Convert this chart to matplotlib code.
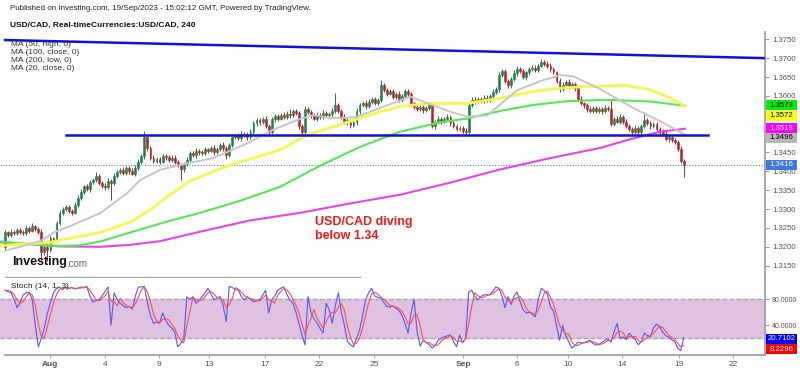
import numpy as np
import pandas as pd
import matplotlib
matplotlib.use("Agg")
import matplotlib.pyplot as plt
from matplotlib.patches import Rectangle

plt.rcParams['font.family'] = ['Liberation Sans', 'DejaVu Sans']

# ---- data (USD/CAD 4h candles) ----
first_open = 1.3200
closes = [
    1.3238, 1.3232, 1.3240, 1.3236, 1.3245, 1.3240, 1.3236, 1.3250, 1.3242, 1.3255, 1.3248, 1.3240, 1.3185, 1.3200, 1.3192, 1.3222, 1.3218, 1.3262, 1.3290, 1.3300, 1.3305, 1.3296, 1.3290, 1.3312, 1.3330,
    1.3345, 1.3360, 1.3352, 1.3372, 1.3378, 1.3388, 1.3370, 1.3362, 1.3358, 1.3375, 1.3370, 1.3388, 1.3398, 1.3404, 1.3396, 1.3408, 1.3400, 1.3394, 1.3410, 1.3425, 1.3440, 1.3490, 1.3462, 1.3435, 1.3428,
    1.3432, 1.3425, 1.3440, 1.3438, 1.3430, 1.3436, 1.3424, 1.3418, 1.3405, 1.3420, 1.3430, 1.3448, 1.3442, 1.3455, 1.3450, 1.3448, 1.3458, 1.3455, 1.3462, 1.3450, 1.3460, 1.3470, 1.3462, 1.3444, 1.3470,
    1.3492, 1.3495, 1.3488, 1.3500, 1.3496, 1.3490, 1.3505, 1.3528, 1.3535, 1.3530, 1.3540, 1.3520, 1.3505, 1.3538, 1.3546, 1.3540, 1.3550, 1.3545, 1.3552, 1.3548, 1.3560, 1.3555, 1.3520, 1.3503, 1.3565,
    1.3558, 1.3548, 1.3540, 1.3550, 1.3545, 1.3555, 1.3548, 1.3552, 1.3560, 1.3575, 1.3560, 1.3545, 1.3530, 1.3535, 1.3522, 1.3530, 1.3560, 1.3575, 1.3580, 1.3572, 1.3585, 1.3592, 1.3582, 1.3590, 1.3628,
    1.3615, 1.3605, 1.3612, 1.3598, 1.3605, 1.3590, 1.3600, 1.3612, 1.3605, 1.3580, 1.3570, 1.3565, 1.3570, 1.3562, 1.3568, 1.3575, 1.3520, 1.3530, 1.3538, 1.3532, 1.3540, 1.3545, 1.3528, 1.3520, 1.3512,
    1.3515, 1.3508, 1.3505, 1.3575, 1.3590, 1.3585, 1.3592, 1.3588, 1.3595, 1.3590, 1.3600, 1.3610, 1.3618, 1.3655, 1.3665, 1.3640, 1.3628, 1.3645, 1.3660, 1.3672, 1.3665, 1.3650, 1.3662, 1.3670, 1.3675,
    1.3668, 1.3680, 1.3690, 1.3685, 1.3680, 1.3670, 1.3662, 1.3640, 1.3618, 1.3630, 1.3638, 1.3625, 1.3632, 1.3620, 1.3592, 1.3580, 1.3575, 1.3565, 1.3560, 1.3568, 1.3560, 1.3565, 1.3560, 1.3568, 1.3565,
    1.3525, 1.3540, 1.3532, 1.3545, 1.3530, 1.3520, 1.3512, 1.3505, 1.3515, 1.3505, 1.3520, 1.3535, 1.3528, 1.3520, 1.3525, 1.3512, 1.3505, 1.3500, 1.3485, 1.3490, 1.3482, 1.3478, 1.3460, 1.3428, 1.3416,
]
# wick lengths in pips above / below the body
wick_up = [
    6, 5, 8, 4, 6, 5, 4, 7, 5, 8, 4, 5, 6, 5, 9, 6, 5, 7, 8, 6, 5, 6, 5, 7, 6,
    8, 5, 7, 6, 5, 9, 6, 5, 6, 7, 5, 8, 6, 5, 7, 6, 5, 8, 6, 7, 6, 18, 6, 5, 7,
    6, 5, 7, 6, 5, 8, 6, 5, 4, 6, 7, 5, 6, 8, 5, 6, 7, 5, 6, 9, 5, 6, 7, 5, 6,
    6, 5, 7, 6, 5, 8, 6, 5, 7, 6, 5, 7, 6, 5, 6, 7, 5, 6, 8, 12, 6, 5, 6, 5, 7,
    6, 5, 7, 6, 5, 8, 6, 5, 7, 32, 6, 5, 7, 6, 5, 6, 7, 5, 6, 8, 6, 5, 6, 5, 14,
    6, 5, 7, 6, 5, 8, 6, 5, 7, 6, 5, 7, 6, 5, 6, 7, 5, 6, 8, 6, 5, 6, 5, 7, 6,
    6, 5, 7, 5, 6, 8, 6, 5, 7, 6, 5, 7, 6, 8, 6, 7, 5, 6, 8, 6, 5, 6, 5, 7, 6,
    6, 5, 7, 6, 8, 6, 6, 5, 7, 6, 5, 7, 6, 5, 6, 7, 5, 6, 8, 6, 5, 6, 5, 7, 6,
    24, 5, 7, 6, 5, 8, 6, 5, 7, 6, 5, 19, 6, 5, 6, 7, 5, 6, 8, 6, 5, 6, 5, 7, 4,
]
wick_dn = [
    12, 5, 6, 4, 5, 6, 4, 5, 6, 4, 5, 6, 20, 8, 30, 5, 6, 4, 5, 7, 5, 6, 5, 4, 6,
    5, 6, 4, 7, 5, 6, 5, 6, 7, 6, 45, 5, 6, 4, 5, 7, 6, 5, 6, 7, 5, 6, 8, 6, 5,
    5, 6, 4, 7, 5, 6, 5, 6, 27, 6, 5, 6, 5, 7, 6, 5, 6, 7, 5, 6, 5, 6, 7, 12, 6,
    5, 6, 4, 7, 5, 6, 5, 6, 7, 6, 5, 6, 9, 5, 6, 7, 5, 6, 5, 6, 5, 6, 7, 6, 5,
    5, 6, 4, 7, 5, 6, 5, 6, 7, 6, 5, 6, 5, 7, 6, 5, 6, 7, 5, 6, 5, 6, 7, 6, 5,
    5, 6, 4, 7, 5, 6, 5, 6, 7, 6, 5, 6, 5, 7, 6, 5, 6, 7, 5, 6, 5, 6, 7, 6, 5,
    5, 6, 9, 7, 5, 6, 5, 6, 7, 6, 5, 6, 5, 7, 6, 5, 6, 7, 5, 6, 5, 6, 7, 6, 5,
    5, 6, 4, 7, 5, 6, 5, 6, 7, 6, 5, 6, 5, 7, 6, 5, 6, 7, 5, 6, 5, 6, 7, 6, 5,
    5, 6, 4, 7, 5, 6, 5, 6, 7, 6, 5, 6, 5, 7, 6, 5, 6, 7, 5, 6, 5, 6, 7, 6, 30,
]

# moving averages (candle index, price)
ma50_x = [-1.5, 14.9, 31.4, 41.3, 47.9, 54.5, 61.1, 74.3, 90.8, 99.7, 112.9, 123.8, 130.4, 140.3, 152.5, 163.4, 174.3, 185.5, 196.4, 204.6, 212.9, 219.5, 224.4]
ma50_y = [1.3203, 1.3212, 1.3238, 1.3265, 1.3298, 1.3338, 1.3375, 1.3417, 1.3457, 1.3496, 1.3530, 1.3558, 1.3572, 1.3580, 1.3580, 1.3594, 1.3612, 1.3622, 1.3626, 1.3628, 1.3616, 1.3595, 1.3573]
ma100_x = [-1.5, 8.3, 18.2, 24.8, 31.4, 42.2, 53.5, 64.4, 77.6, 90.8, 104.0, 117.2, 130.4, 143.6, 152.5, 163.4, 174.3, 185.5, 196.4, 200.7, 212.9, 224.4]
ma100_y = [1.3214, 1.3207, 1.3202, 1.3204, 1.3214, 1.3240, 1.3267, 1.3290, 1.3322, 1.3359, 1.3415, 1.3465, 1.3505, 1.3530, 1.3540, 1.3560, 1.3576, 1.3586, 1.3589, 1.3589, 1.3585, 1.3574]
ma200_x = [-1.5, 8.3, 18.2, 31.4, 41.3, 51.2, 64.4, 80.9, 97.4, 113.9, 130.4, 146.9, 163.4, 179.9, 196.4, 206.3, 216.2, 224.4]
ma200_y = [1.3212, 1.3207, 1.3201, 1.3200, 1.3205, 1.3215, 1.3240, 1.3270, 1.3290, 1.3315, 1.3338, 1.3370, 1.3405, 1.3435, 1.3462, 1.3485, 1.3505, 1.3513]
ma20_x = [0, 5, 11.6, 16.5, 21.5, 31.4, 40.3, 44.6, 51.2, 60.1, 68.6, 79.9, 88.4, 96.4, 101.7, 107.3, 115.5, 124.8, 133.7, 141.3, 146.9, 152.5, 159.1, 169, 177.6, 183.2, 187.5, 196.4, 207.3, 216.2, 224.4]
ma20_y = [1.3190, 1.3200, 1.3215, 1.3240, 1.3255, 1.3289, 1.3342, 1.3377, 1.3404, 1.3421, 1.3435, 1.3474, 1.3510, 1.3536, 1.3549, 1.3541, 1.3543, 1.3571, 1.3598, 1.3575, 1.3558, 1.3545, 1.3548, 1.3615, 1.3642, 1.3655, 1.3652, 1.3618, 1.3568, 1.3533, 1.3497]

# drawn lines
trend_x = [0, 250.8]
trend_y = [1.3748, 1.3700]
support_x = [20.1, 232.0]
support_y = [1.3497, 1.3497]
last_price = 1.3416

# stochastic %K
stoch_k = [
    94, 92, 90, 80, 67, 75, 87, 90, 91, 79, 40, 7, 20, 36, 59, 75, 90, 97, 99, 95, 99, 97, 98, 96, 97,
    99, 98, 100, 85, 76, 78, 79, 85, 92, 99, 40, 90, 80, 74, 70, 67, 69, 65, 85, 99, 99, 100, 74, 55, 43,
    45, 43, 59, 48, 40, 36, 30, 7, 12, 20, 84, 80, 84, 74, 78, 84, 90, 97, 88, 79, 82, 84, 70, 46, 100,
    98, 95, 94, 84, 79, 84, 80, 76, 78, 79, 86, 94, 59, 79, 85, 94, 97, 99, 88, 79, 74, 60, 43, 25, 10,
    84, 59, 50, 43, 35, 28, 74, 64, 43, 70, 90, 60, 40, 15, 10, 7, 20, 33, 55, 79, 90, 97, 85, 83, 82,
    75, 69, 68, 70, 66, 63, 55, 43, 28, 59, 80, 30, 8, 17, 14, 10, 5, 10, 17, 20, 22, 24, 25, 15, 7,
    25, 13, 20, 91, 94, 85, 79, 84, 87, 87, 87, 92, 99, 97, 85, 67, 84, 72, 85, 91, 76, 64, 59, 60, 57,
    53, 80, 97, 93, 88, 68, 62, 40, 17, 40, 25, 15, 5, 8, 14, 13, 13, 15, 17, 12, 10, 10, 14, 17, 19,
    14, 30, 43, 20, 22, 18, 28, 22, 18, 10, 15, 28, 24, 22, 36, 42, 38, 30, 24, 22, 18, 15, 5, 1, 20.7,
]

tick_pos = [14.85, 32.9, 50.7, 67.3, 85.8, 103.6, 121.8, 151.2, 169, 185.8, 203.6, 222.4, 240.3]
tick_labels = ["Aug", "4", "9", "13", "17", "22", "25", "Sep", "6", "10", "14", "19", "22"]
# 1.3500 and 1.3550 sit under the value tags, so no label is drawn there
price_ticks = [1.3150, 1.3200, 1.3250, 1.3300, 1.3350, 1.3400, 1.3450,
               1.3600, 1.3650, 1.3700, 1.3750]
stoch_ticks = [0, 40, 80]

# right-side value tags: (text, price where drawn, face, text colour)
tags = [("1.3573", 1.35751, "#00ee00", "black"),
        ("1.3572", 1.35475, "#ffff00", "black"),
        ("1.3513", 1.35141, "#ff00ff", "white"),
        ("1.3496", 1.34892, "#b8b8b8", "black"),
        ("1.3416", 1.34168, "#3f78dc", "white")]
stoch_tags = [("20.7102", 19.4, "#0000ff"), ("8.2296", 3.1, "#ff0000")]

# ---- derived ----
c = np.array(closes)
o = np.array([first_open] + closes[:-1])
hi = np.maximum(o, c) + np.array(wick_up) * 1e-4
lo = np.minimum(o, c) - np.array(wick_dn) * 1e-4
idx = np.arange(len(c))
stoch_d = pd.Series(stoch_k).rolling(3, min_periods=1).mean()

W, H = 800, 371
fig = plt.figure(figsize=(W / 100, H / 100), dpi=100)


def fpos(x, y):
    return x / W, 1 - y / H


XL = (-1.65, 250.8)
ax = fig.add_axes([0, 1 - 278 / H, 765 / W, (278 - 32) / H])
ax2 = fig.add_axes([0, 1 - 355 / H, 765 / W, (355 - 278) / H])

# main pane
cols = np.where(c >= o, "#1f7f45", "#b0262b")
ax.vlines(idx, lo, hi, colors=cols, lw=0.7, zorder=2)
ax.bar(idx, np.abs(c - o), bottom=np.minimum(o, c), width=0.62, color=cols,
       edgecolor=cols, linewidth=0.4, zorder=3)

ax.plot(ma200_x, ma200_y, color="#e545e5", lw=1.5, zorder=4)
ax.plot(ma100_x, ma100_y, color="#55e855", lw=1.5, zorder=4)
ax.plot(ma50_x, ma50_y, color="#f6f64e", lw=2.0, zorder=4)
ax.plot(ma20_x, ma20_y, color="#c6c6c6", lw=1.4, zorder=4)

ax.plot(trend_x, trend_y, color="#1010e0", lw=1.8, zorder=5)
ax.plot(support_x, support_y, color="#1010e0", lw=1.8, zorder=5)
ax.axhline(last_price, color="#5b80e6", ls=(0, (1, 1.5)), lw=0.8, zorder=1)
ax.plot([0, 117], [0.004, 0.004], transform=ax.get_xaxis_transform(),
        color="#a8a8a8", lw=1, clip_on=False)

ax.set_xlim(*XL)
ax.set_ylim(1.31173, 1.37693)
ax.set_yticks(price_ticks)
ax.yaxis.set_major_formatter(plt.FormatStrFormatter("%.4f"))
ax.tick_params(axis="y", left=False, labelleft=False, right=True, labelright=True,
               direction="out", length=3, width=0.8, color="#999999",
               labelsize=5.6, labelcolor="#555555", pad=2)
ax.set_xticks([])
for s in ["top", "left", "bottom"]:
    ax.spines[s].set_visible(False)
ax.spines["right"].set_color("#999999")
ax.spines["right"].set_linewidth(1.2)

tag_x0, tag_w = 766 / 765, 31 / 765


def add_tags(a, items, h):
    for txt, yv, fc, tc in items:
        a.add_patch(Rectangle((tag_x0, yv - h / 2), tag_w, h, transform=a.get_yaxis_transform(),
                              fc=fc, ec="none", clip_on=False, zorder=9))
        a.text(tag_x0 + tag_w / 2, yv, txt, transform=a.get_yaxis_transform(), ha="center",
               va="center", fontsize=5.6, color=tc, clip_on=False, zorder=10)


add_tags(ax, tags, 10 / 3773)

# stochastic pane
ax2.axhspan(20, 80, color="#dfc2e0", zorder=0)
ax2.axhline(80, color="#a8a8a8", ls=(0, (3, 2)), lw=1, zorder=1)
ax2.axhline(20, color="#a8a8a8", ls=(0, (3, 2)), lw=1, zorder=1)
ax2.plot(idx, stoch_k, color="#5656ff", lw=0.8, zorder=3)
ax2.plot(idx, stoch_d, color="#ff4e4e", lw=0.8, zorder=3)
ax2.set_xlim(*XL)
ax2.set_ylim(-5.7, 112.8)
ax2.set_yticks(stoch_ticks)
ax2.yaxis.set_major_formatter(plt.FormatStrFormatter("%.4f"))
ax2.tick_params(axis="y", left=False, labelleft=False, right=True, labelright=True,
                direction="out", length=3, width=0.8, color="#999999",
                labelsize=5, labelcolor="#555555", pad=2)
ax2.set_xticks(tick_pos)
ax2.set_xticklabels(tick_labels)
ax2.tick_params(axis="x", direction="out", length=2, width=0.6, color="#999999",
                labelsize=6, labelcolor="#555555", pad=2)
for lab in ax2.get_xticklabels():
    if lab.get_text() in ("Aug", "Sep"):
        lab.set_fontweight("bold")
for s in ["top", "left"]:
    ax2.spines[s].set_visible(False)
for s in ["right", "bottom"]:
    ax2.spines[s].set_color("#999999")
    ax2.spines[s].set_linewidth(1.2)
ax2.spines["bottom"].set_bounds(0, XL[1])

add_tags(ax2, [(t, v, fc, "white") for t, v, fc in stoch_tags], 10 / 0.65)

# header and labels
fig.text(*fpos(10, 8), "Published on Investing.com, 19/Sep/2023 - 15:02:12 GMT, Powered by TradingView.",
         fontsize=5.8, color="#222222", va="center")
fig.text(*fpos(10, 25), "USD/CAD, Real-timeCurrencies:USD/CAD, 240",
         fontsize=6, fontweight="bold", color="#111111", va="center")
for k, lab in enumerate(["MA (50, high, 0)", "MA (100, close, 0)", "MA (200, low, 0)", "MA (20, close, 0)"]):
    fig.text(*fpos(11, 45 + 8 * k), lab, fontsize=6, color="#333333", va="center")
fig.text(*fpos(11, 286), "Stoch (14, 1, 3)", fontsize=6, color="#222222", va="center")
fig.text(*fpos(12, 262), "Investing", fontsize=9, fontweight="bold", color="#111111", va="center")
fig.text(*fpos(66, 264), ".com", fontsize=7, color="#666666", va="center")
fig.text(*fpos(315, 222), "USD/CAD diving", fontsize=9, fontweight="bold", color="#f01818", va="center")
fig.text(*fpos(315, 236), "below 1.34", fontsize=9, fontweight="bold", color="#f01818", va="center")

fig.savefig("out.png", dpi=100)
